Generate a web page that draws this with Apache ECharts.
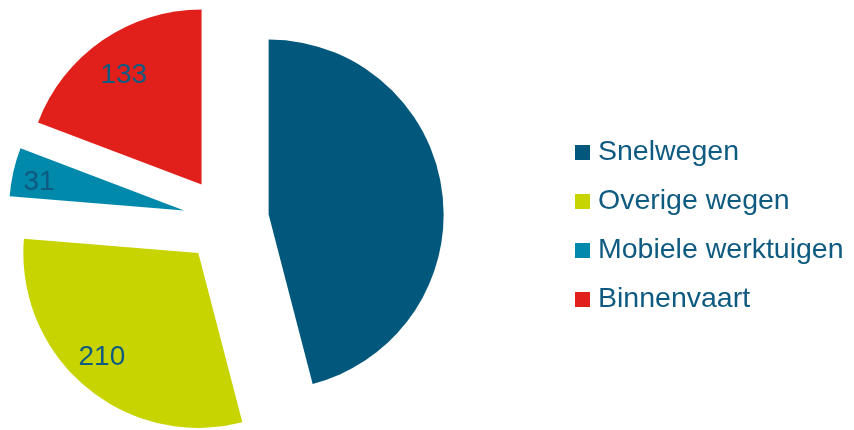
<!DOCTYPE html>
<html>
<head>
<meta charset="utf-8">
<script src="https://cdn.jsdelivr.net/npm/echarts@6/dist/echarts.min.js"></script>
<style>
  html, body { margin: 0; padding: 0; background: #ffffff; }
  #chart { width: 854px; height: 430px; }
</style>
</head>
<body>
<div id="chart"></div>
<script>
// Emissions by source category
const categories = ['Snelwegen', 'Overige wegen', 'Mobiele werktuigen', 'Binnenvaart'];
const values = [318, 210, 31, 133];
const colors = ['#02587C', '#C8D400', '#0089AA', '#E2201B'];

const textColor = '#0F5A80';
const fontFamily = '"Liberation Sans", Arial, sans-serif';
const center = [226, 220];
const outer = 175;
const explode = 43;

const sliceData = categories.map((name, i) => ({
  name: name,
  value: values[i],
  selected: true,
  itemStyle: { color: colors[i] }
}));

// Transparent ring on top of the pie, used only to place the value labels
// further out along each slice. The first value is written in its slice colour.
// Uneven padding nudges individual labels a few pixels off the ring centre.
const labelPadding = [[0, 0, 0, 0], [0, 12, 6, 0], [6, 16, 0, 0], [12, 0, 0, 4]];
const labelData = categories.map((name, i) => ({
  name: name,
  value: values[i],
  selected: true,
  itemStyle: { color: 'rgba(0,0,0,0)' },
  label: {
    formatter: '{v|{c}}',
    rich: {
      v: {
        color: i === 0 ? colors[0] : textColor,
        fontFamily: fontFamily,
        fontSize: 28,
        padding: labelPadding[i]
      }
    }
  }
}));

const chart = echarts.init(document.getElementById('chart'), null, { renderer: 'canvas' });

chart.setOption({
  animation: false,
  backgroundColor: '#ffffff',
  legend: {
    orient: 'vertical',
    left: 575,
    top: 138,
    padding: 0,
    data: categories,
    icon: 'rect',
    itemWidth: 15,
    itemHeight: 15,
    itemGap: 20,
    selectedMode: false,
    textStyle: {
      color: textColor,
      fontFamily: fontFamily,
      fontSize: 28.5,
      lineHeight: 28,
      padding: [0, 0, 0, 3]
    }
  },
  series: [
    {
      type: 'pie',
      center: center,
      radius: [0, outer],
      startAngle: 90,
      clockwise: true,
      selectedMode: 'multiple',
      selectedOffset: explode,
      avoidLabelOverlap: false,
      silent: true,
      label: { show: false },
      labelLine: { show: false },
      data: sliceData
    },
    {
      type: 'pie',
      center: center,
      radius: [100, outer],
      startAngle: 90,
      clockwise: true,
      selectedMode: 'multiple',
      selectedOffset: explode,
      avoidLabelOverlap: false,
      silent: true,
      legendHoverLink: false,
      label: {
        show: true,
        position: 'inside',
        color: textColor,
        fontFamily: fontFamily,
        fontSize: 28
      },
      labelLine: { show: false },
      data: labelData
    }
  ]
});
</script>
</body>
</html>
